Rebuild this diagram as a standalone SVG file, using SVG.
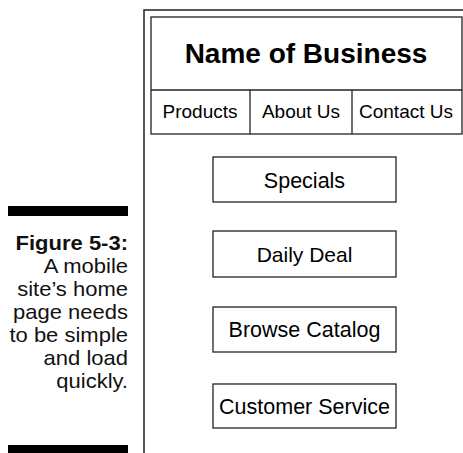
<svg xmlns="http://www.w3.org/2000/svg" width="463" height="453" viewBox="0 0 463 453">
<style>
.frame{fill:none;stroke:#222;stroke-width:1.5}
.box{fill:#fff;stroke:#222;stroke-width:1.3}
.t{font-family:"Liberation Sans",Arial,sans-serif;fill:#000;text-anchor:middle}
.cap{font-family:"Liberation Sans",Arial,sans-serif;fill:#111;text-anchor:end;font-size:20px}
</style>
<rect width="463" height="453" fill="#fff"/>
<g id="caption">
<rect x="8" y="206" width="120" height="10" fill="#000"/>
<rect x="8" y="445" width="120" height="8" fill="#000"/>
<g transform="translate(128,0) scale(1.1,1)">
<text class="cap" x="0" y="250" font-weight="bold">Figure 5-3:</text>
<text class="cap" x="0" y="273">A mobile</text>
<text class="cap" x="0" y="296">site’s home</text>
<text class="cap" x="0" y="319">page needs</text>
<text class="cap" x="0" y="342">to be simple</text>
<text class="cap" x="0" y="365">and load</text>
<text class="cap" x="0" y="388">quickly.</text>
</g>
</g>
<g id="phone">
<path class="frame" d="M144,453 V10 H463"/>
</g>
<g id="header">
<rect class="box" x="151" y="17" width="311" height="117"/>
<line class="box" x1="151" y1="90" x2="462" y2="90"/>
<text class="t" x="306" y="63" font-size="28" font-weight="bold">Name of Business</text>
</g>
<g id="nav-products">
<text class="t" x="200" y="118" font-size="19">Products</text>
</g>
<g id="nav-about">
<line class="box" x1="250" y1="90" x2="250" y2="134"/>
<text class="t" x="301" y="118" font-size="19">About Us</text>
</g>
<g id="nav-contact">
<line class="box" x1="352" y1="90" x2="352" y2="134"/>
<text class="t" x="406" y="118" font-size="19">Contact Us</text>
</g>
<g id="specials">
<rect class="box" x="213" y="157" width="183" height="45"/>
<text class="t" x="304.5" y="188" font-size="21.5">Specials</text>
</g>
<g id="daily-deal">
<rect class="box" x="213" y="231" width="183" height="46"/>
<text class="t" x="304.5" y="262" font-size="21">Daily Deal</text>
</g>
<g id="browse-catalog">
<rect class="box" x="213" y="307" width="183" height="45"/>
<text class="t" x="304.5" y="337" font-size="21.5">Browse Catalog</text>
</g>
<g id="customer-service">
<rect class="box" x="213" y="384" width="183" height="44"/>
<text class="t" x="304.5" y="414" font-size="21.5">Customer Service</text>
</g>
<g id="connectors"></g>
</svg>
